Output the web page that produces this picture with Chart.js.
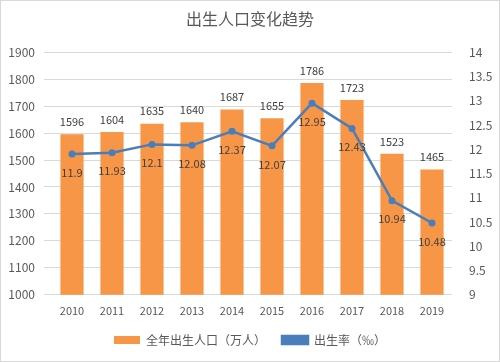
<!DOCTYPE html>
<html>
<head>
<meta charset="utf-8">
<script src="https://cdn.jsdelivr.net/npm/chart.js@4.4.1/dist/chart.umd.min.js"></script>
<style>
  html, body { margin: 0; padding: 0; background: #fff; }
  .box { width: 500px; height: 362px; box-sizing: border-box; border: 1px solid #d9d9d9; }
  canvas { display: block; }
</style>
</head>
<body>
<div class="box"><canvas id="chart" width="498" height="360"></canvas></div>
<script>
const years = ['2010', '2011', '2012', '2013', '2014', '2015', '2016', '2017', '2018', '2019'];
const births = [1596, 1604, 1635, 1640, 1687, 1655, 1786, 1723, 1523, 1465];
const birthRate = [11.9, 11.93, 12.1, 12.08, 12.37, 12.07, 12.95, 12.43, 10.94, 10.48];

const FONT = '"Noto Sans CJK SC", "Noto Sans", sans-serif';

// draws the value labels: above the bars, below the line points
const valueLabels = {
  id: 'valueLabels',
  afterDatasetsDraw(chart) {
    const ctx = chart.ctx;
    ctx.save();
    ctx.font = '11px ' + FONT;
    ctx.fillStyle = '#404040';
    ctx.textAlign = 'center';
    chart.data.datasets.forEach((ds, i) => {
      const meta = chart.getDatasetMeta(i);
      meta.data.forEach((el, j) => {
        if (ds.type === 'bar') {
          ctx.textBaseline = 'bottom';
          ctx.fillText(String(ds.data[j]), el.x, el.y - 7);
        } else {
          ctx.textBaseline = 'top';
          ctx.fillText(String(ds.data[j]), el.x, el.y + 13);
        }
      });
    });
    ctx.restore();
  }
};

const ctx = document.getElementById('chart').getContext('2d');
new Chart(ctx, {
  data: {
    labels: years,
    datasets: [
      {
        type: 'line',
        label: '出生率（‰）',
        data: birthRate,
        yAxisID: 'y1',
        borderColor: '#4a7ebb',
        backgroundColor: '#4a7ebb',
        borderWidth: 2.5,
        pointRadius: 3.5,
        pointBackgroundColor: '#4a7ebb',
        pointBorderWidth: 0,
        tension: 0,
        order: 0
      },
      {
        type: 'bar',
        label: '全年出生人口（万人）',
        data: births,
        yAxisID: 'y',
        backgroundColor: '#f79646',
        categoryPercentage: 1,
        barPercentage: 0.58,
        order: 1
      }
    ]
  },
  options: {
    responsive: false,
    animation: false,
    layout: { padding: { top: 0, bottom: 5, left: 0, right: 0 } },
    plugins: {
      title: {
        display: true,
        text: '出生人口变化趋势',
        color: '#595959',
        font: { family: FONT, size: 16, weight: 'normal' },
        padding: { top: 8, bottom: 24 }
      },
      legend: {
        position: 'bottom',
        reverse: true,
        labels: {
          color: '#595959',
          font: { family: FONT, size: 12 },
          boxWidth: 26,
          boxHeight: 8,
          padding: 16
        }
      },
      tooltip: { enabled: false }
    },
    scales: {
      x: {
        grid: { display: false },
        border: { display: false },
        ticks: { color: '#595959', font: { family: FONT, size: 11 }, padding: 1, maxRotation: 0, autoSkip: false }
      },
      y: {
        position: 'left',
        min: 1000,
        max: 1900,
        ticks: { stepSize: 100, color: '#595959', font: { family: FONT, size: 12 }, padding: 9,
          callback: (v) => String(v) },
        grid: { color: '#d9d9d9' },
        border: { display: false },
        afterFit(scale) { scale.width = 51; }
      },
      y1: {
        position: 'right',
        min: 9,
        max: 14,
        ticks: { stepSize: 0.5, color: '#595959', font: { family: FONT, size: 12 }, padding: 9,
          callback: (v) => String(v) },
        grid: { display: false },
        border: { display: false },
        afterFit(scale) { scale.width = 47; }
      }
    }
  },
  plugins: [valueLabels]
});
</script>
</body>
</html>
